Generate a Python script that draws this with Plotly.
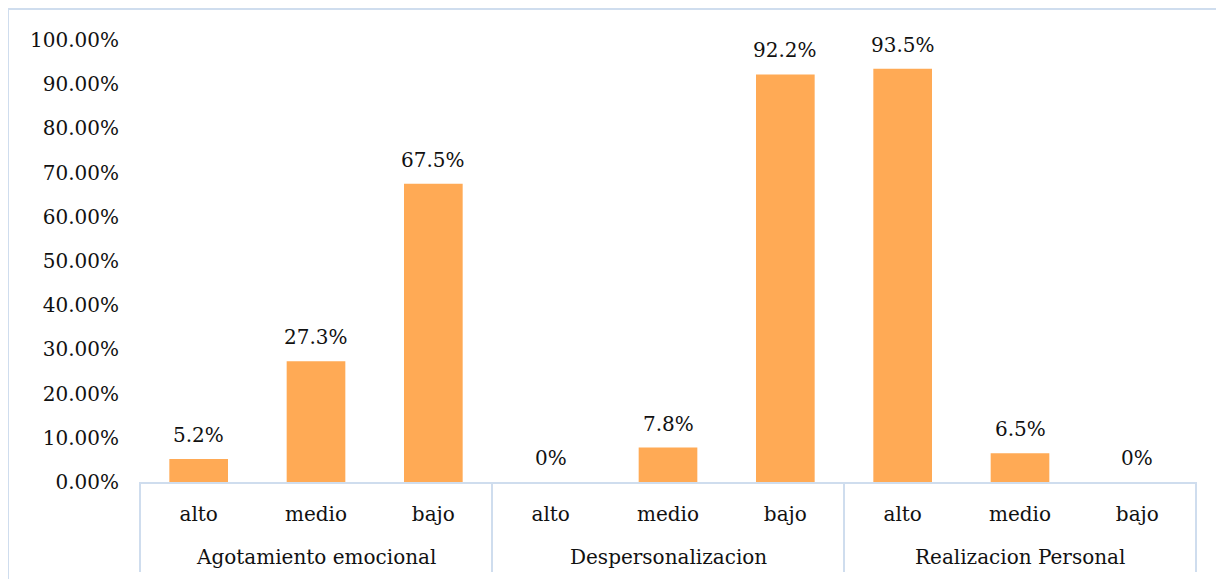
import plotly.graph_objects as go

groups = ["Agotamiento emocional", "Despersonalizacion", "Realizacion Personal"]
levels = ["alto", "medio", "bajo"]
values = [0.052, 0.273, 0.675, 0.0, 0.078, 0.922, 0.935, 0.065, 0.0]
value_labels = ["5.2%", "27.3%", "67.5%", "0%", "7.8%", "92.2%", "93.5%", "6.5%", "0%"]
y_ticks = [0.0, 0.1, 0.2, 0.3, 0.4, 0.5, 0.6, 0.7, 0.8, 0.9, 1.0]

FONT = "DejaVu Serif"
FS = 20
LINE = "#CFDDEE"
TXT = "#111111"

n = len(values)
xs = list(range(n))
ticktext = [levels[i % len(levels)] for i in range(n)]

# page body has an 8px margin; figure is sized so the plot lands where the reference has it
W, H = 1216, 571
L, R, T, B = 132, 28, 32, 97
PW, PH = W - L - R, H - T - B

fig = go.Figure()
fig.add_trace(go.Bar(
    x=xs, y=values, width=0.5,
    marker=dict(color="#FFAA55", line=dict(width=0)),
    hoverinfo="skip",
))

annotations = []
for x, v, t in zip(xs, values, value_labels):
    annotations.append(dict(x=x, y=v, xref="x", yref="y", text=t, showarrow=False,
                            yanchor="middle", yshift=24,
                            font=dict(family=FONT, size=FS, color=TXT)))
for gi, g in enumerate(groups):
    annotations.append(dict(x=gi * 3 + 1, y=-75 / PH, xref="x", yref="paper", text=g,
                            showarrow=False, yanchor="middle",
                            font=dict(family=FONT, size=FS, color=TXT)))

shapes = []
# outer chart border
shapes.append(dict(type="rect", xref="paper", yref="paper",
                   x0=(0 - L) / PW, x1=(1213 - L) / PW,
                   y0=-0.35, y1=(PH + T - 1) / PH,
                   line=dict(color=LINE, width=2), layer="below"))
# group dividers
for k in range(len(groups) + 1):
    xp = k / len(groups)
    shapes.append(dict(type="line", xref="paper", yref="paper",
                       x0=xp, x1=xp, y0=0, y1=-90 / PH,
                       line=dict(color=LINE, width=2)))

fig.update_layout(
    width=W, height=H,
    margin=dict(l=L, r=R, t=T, b=B),
    plot_bgcolor="white", paper_bgcolor="white",
    showlegend=False,
    font=dict(family=FONT, size=FS, color=TXT),
    xaxis=dict(range=[-0.5, n - 0.5], tickvals=xs, ticktext=ticktext,
               showgrid=False, zeroline=False, showline=True, linecolor=LINE, linewidth=2,
               ticks="", ticklabelstandoff=13, fixedrange=True),
    yaxis=dict(range=[0, 1], tickvals=y_ticks, tickformat=".2%",
               showgrid=False, zeroline=False, showline=False, ticks="",
               ticklabelstandoff=20, fixedrange=True),
    annotations=annotations,
    shapes=shapes,
    bargap=0.5,
)

fig.write_html("out.html")
